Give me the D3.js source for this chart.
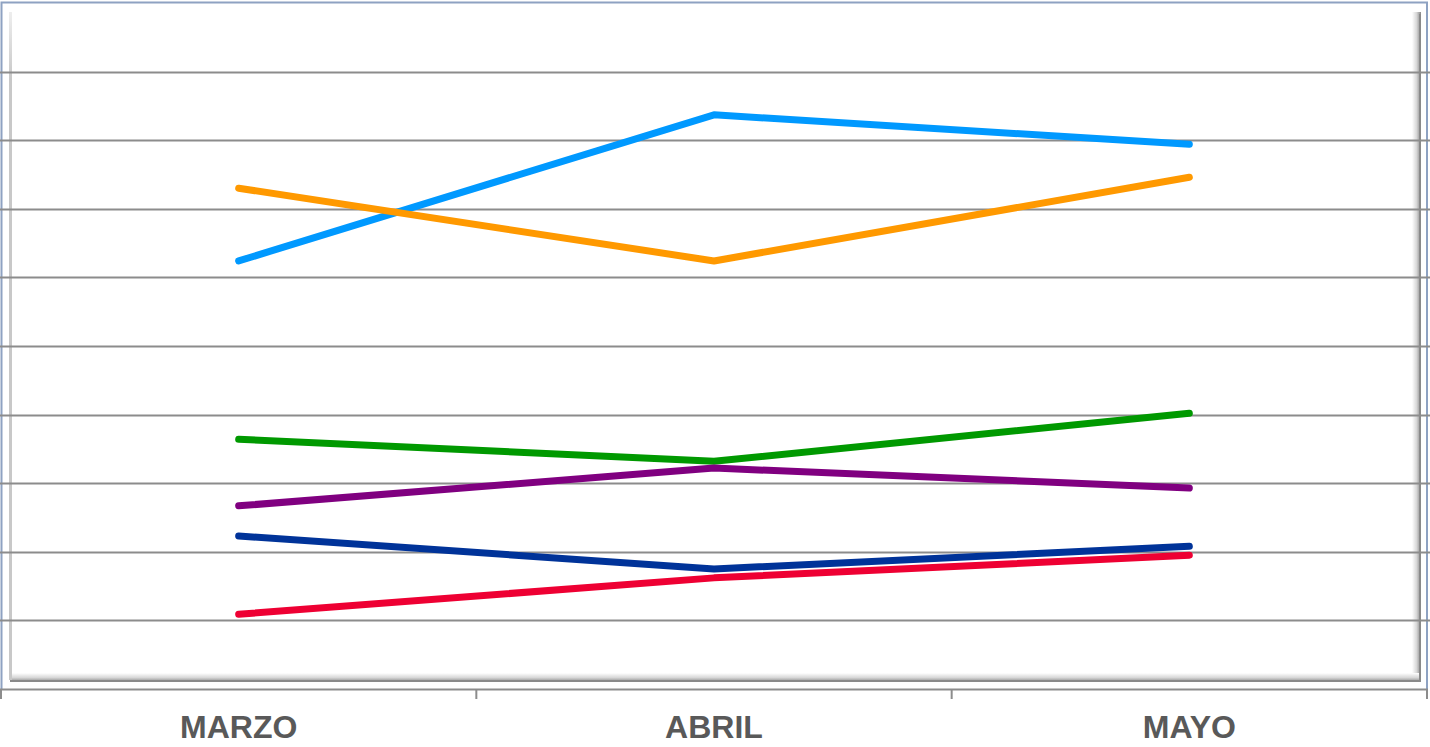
<!DOCTYPE html>
<html><head><meta charset="utf-8">
<script src="https://cdn.jsdelivr.net/npm/d3@7"></script>
<style>html,body{margin:0;padding:0;background:#fff;}svg{display:block;}</style>
</head><body>
<svg id="c" width="1430" height="747"></svg>
<script>
const categories = ["MARZO", "ABRIL", "MAYO"];
const seriesLightBlue = [6.24, 8.37, 7.94];
const seriesOrange = [7.30, 6.24, 7.46];
const seriesGreen = [3.64, 3.32, 4.02];
const seriesPurple = [2.67, 3.22, 2.93];
const seriesDarkBlue = [2.23, 1.75, 2.08];
const seriesRed = [1.09, 1.62, 1.95];
const gridValues = [1, 2, 3, 4, 5, 6, 7, 8, 9];

const series = [
  {name: "s1", values: seriesLightBlue, color: "#0099FF"},
  {name: "s2", values: seriesOrange, color: "#FF9900"},
  {name: "s3", values: seriesGreen, color: "#009900"},
  {name: "s4", values: seriesPurple, color: "#800080"},
  {name: "s5", values: seriesDarkBlue, color: "#003399"},
  {name: "s6", values: seriesRed, color: "#EE0033"}
];

const svg = d3.select("#c");
const x = d3.scaleBand().domain(categories).range([1, 1427]).padding(0);
const y = d3.scaleLinear().domain([0, 10]).range([689, 3]);

const defs = svg.append("defs");
const gR = defs.append("linearGradient").attr("id", "gr").attr("x1", 0).attr("x2", 1).attr("y1", 0).attr("y2", 0);
gR.append("stop").attr("offset", 0).attr("stop-color", "#ffffff");
gR.append("stop").attr("offset", 0.5).attr("stop-color", "#d8d8d8");
gR.append("stop").attr("offset", 1).attr("stop-color", "#888888");
const gB = defs.append("linearGradient").attr("id", "gb").attr("x1", 0).attr("x2", 0).attr("y1", 0).attr("y2", 1);
gB.append("stop").attr("offset", 0).attr("stop-color", "#ffffff");
gB.append("stop").attr("offset", 0.5).attr("stop-color", "#d8d8d8");
gB.append("stop").attr("offset", 1).attr("stop-color", "#888888");
const gL = defs.append("linearGradient").attr("id", "gl").attr("x1", 0).attr("x2", 0).attr("y1", 0).attr("y2", 1);
gL.append("stop").attr("offset", 0).attr("stop-color", "#eeeeee");
gL.append("stop").attr("offset", 0.1).attr("stop-color", "#c8c8c8");
gL.append("stop").attr("offset", 1).attr("stop-color", "#c8c8c8");

// outer frame (bluish)
svg.append("path").attr("d", "M1.5,689 L1.5,2.5 L1427,2.5 L1427,689")
  .attr("fill", "none").attr("stroke", "#8EA2C2").attr("stroke-width", 2);

// inner bevel panel
const fr = svg.append("g");
fr.append("rect").attr("x", 9).attr("y", 12).attr("width", 3).attr("height", 668).attr("fill", "url(#gl)");
fr.append("rect").attr("x", 1412).attr("y", 12).attr("width", 9).attr("height", 670).attr("fill", "url(#gr)");
fr.append("rect").attr("x", 12).attr("y", 673).attr("width", 1409).attr("height", 9).attr("fill", "url(#gb)");
fr.append("line").attr("x1", 10).attr("x2", 1421).attr("y1", 681).attr("y2", 681).attr("stroke", "#8a8a8a").attr("stroke-width", 2);
fr.append("line").attr("x1", 1420).attr("x2", 1420).attr("y1", 14).attr("y2", 682).attr("stroke", "#8a8a8a").attr("stroke-width", 2);

// gridlines
svg.append("g").selectAll("line").data(gridValues).join("line")
  .attr("x1", 0).attr("x2", 1430)
  .attr("y1", d => Math.round(y(d)) + 0.5).attr("y2", d => Math.round(y(d)) + 0.5)
  .attr("stroke", "#8c8c8c").attr("stroke-width", 2);

// x axis
const ax = svg.append("g").attr("transform", `translate(0,${y(0)})`)
  .call(d3.axisBottom(x).tickSize(0).tickFormat(""));
ax.select(".domain").attr("stroke", "#8c8c8c").attr("stroke-width", 2).attr("d", "M0,0.5H1428");
const boundaries = categories.map(c => x(c)).concat([x(categories[categories.length - 1]) + x.bandwidth()]);
svg.append("g").selectAll("line").data(boundaries).join("line")
  .attr("x1", d => d).attr("x2", d => d).attr("y1", y(0)).attr("y2", y(0) + 10)
  .attr("stroke", "#8c8c8c").attr("stroke-width", 2);

svg.append("g").selectAll("text").data(categories).join("text")
  .attr("x", d => x(d) + x.bandwidth() / 2).attr("y", 738)
  .attr("text-anchor", "middle")
  .attr("font-family", "Liberation Sans, Arial, sans-serif")
  .attr("font-weight", "bold").attr("font-size", 32).attr("fill", "#595959")
  .text(d => d);

// lines
const line = d3.line().x((d, i) => x(categories[i]) + x.bandwidth() / 2).y(d => y(d));
svg.append("g").selectAll("path").data(series).join("path")
  .attr("d", d => line(d.values))
  .attr("fill", "none").attr("stroke", d => d.color)
  .attr("stroke-width", 7).attr("stroke-linecap", "round").attr("stroke-linejoin", "round");
</script>
</body></html>
